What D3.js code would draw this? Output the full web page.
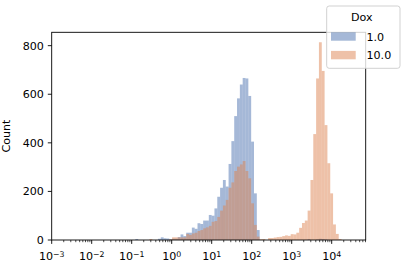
<!DOCTYPE html>
<html>
<head>
<meta charset="utf-8">
<script src="https://cdn.jsdelivr.net/npm/d3@7"></script>
<style>
  body { margin: 0; background: #fff; }
  svg text { font-family: "DejaVu Sans", sans-serif; fill: #000; }
</style>
</head>
<body>
<div id="chart"></div>
<script>
// log10 bin grid shared by both hue levels
const binStart = -0.908;
const binWidth = 0.0706;

const hueLevels = ["1.0", "10.0"];
const hueColors = ["#4c72b0", "#dd8452"];

const dox1Counts = [
  4, 0, 0, 0, 0, 0, 0, 0, 5, 11,
  7, 6, 3, 5, 5, 12, 23, 16, 30, 30,
  51, 46, 69, 66, 80, 80, 103, 100, 130, 178,
  215, 247, 220, 313, 407, 510, 583, 640, 667, 665,
  593, 405, 192, 41, 0, 0, 0, 0, 0, 0,
  0, 0, 0, 0, 0, 0, 0, 0, 0, 0,
  0, 3, 0, 0, 2, 5, 4, 2, 0, 0,
  0, 0, 0
];
const dox10Counts = [
  0, 0, 0, 0, 0, 4, 0, 0, 0, 0,
  0, 0, 3, 11, 11, 11, 11, 11, 25, 21,
  27, 30, 37, 41, 48, 52, 58, 75, 78, 95,
  121, 142, 165, 215, 237, 284, 302, 311, 325, 284,
  254, 151, 62, 14, 3, 4, 0, 8, 8, 10,
  12, 13, 16, 19, 17, 24, 23, 30, 50, 70,
  80, 121, 247, 436, 665, 814, 696, 473, 316, 192,
  64, 25, 4
];

const xTickExps = [-3, -2, -1, 0, 1, 2, 3, 4];
const yTicks = [0, 200, 400, 600, 800];
const xDomain = [1e-3, Math.pow(10, 4.85)];
const yDomain = [0, 855];

const W = 405, H = 270;
const margin = { top: 32.3, right: 39.3, bottom: 30, left: 51.7 };

const svg = d3.select("#chart").append("svg")
  .attr("width", W)
  .attr("height", H);

let x = d3.scaleLog()
  .domain(xDomain)
  .range([margin.left, W - margin.right]);

let y = d3.scaleLinear()
  .domain(yDomain)
  .range([H - margin.bottom, margin.top]);

const series = [dox1Counts, dox10Counts];

series.forEach((counts, s) => {
  svg.append("g")
    .selectAll("rect")
    .data(counts.map((c, i) => ({ i: i, c: c })).filter(d => d.c > 0))
    .enter()
    .append("rect")
    .attr("x", d => x(Math.pow(10, binStart + d.i * binWidth)))
    .attr("width", d => x(Math.pow(10, binStart + (d.i + 1) * binWidth)) - x(Math.pow(10, binStart + d.i * binWidth)))
    .attr("y", d => y(d.c))
    .attr("height", d => y(0) - y(d.c))
    .style("fill", hueColors[s])
    .style("fill-opacity", 0.5);
});

// x axis: log ticks, major decades + minor 2..9
const minorTicks = [];
for (let e = -3; e <= 4; e++) {
  for (let m = 2; m <= 9; m++) {
    let v = m * Math.pow(10, e);
    if (v <= xDomain[1]) minorTicks.push(v);
  }
}

let xAxisG = svg.append("g")
  .attr("transform", `translate(0, ${y(0)})`);

xAxisG.selectAll("line.minor")
  .data(minorTicks)
  .enter()
  .append("line")
  .attr("x1", d => x(d)).attr("x2", d => x(d))
  .attr("y1", 0).attr("y2", 2.2)
  .attr("stroke", "#000").attr("stroke-width", 0.7);

xAxisG.selectAll("line.major")
  .data(xTickExps)
  .enter()
  .append("line")
  .attr("x1", d => x(Math.pow(10, d))).attr("x2", d => x(Math.pow(10, d)))
  .attr("y1", 0).attr("y2", 3.9)
  .attr("stroke", "#000").attr("stroke-width", 0.9);

let xLabels = xAxisG.selectAll("text")
  .data(xTickExps)
  .enter()
  .append("text")
  .attr("x", d => x(Math.pow(10, d)))
  .attr("y", 20)
  .style("font-size", "11.1px")
  .style("text-anchor", "middle");
xLabels.append("tspan").text("10");
xLabels.append("tspan")
  .attr("dy", "-0.42em")
  .style("font-size", "7.8px")
  .text(d => d < 0 ? "\u2212" + (-d) : "" + d);

// y axis
let yAxisG = svg.append("g");
yAxisG.selectAll("line")
  .data(yTicks)
  .enter()
  .append("line")
  .attr("x1", margin.left - 3.9).attr("x2", margin.left)
  .attr("y1", d => y(d)).attr("y2", d => y(d))
  .attr("stroke", "#000").attr("stroke-width", 0.9);
yAxisG.selectAll("text")
  .data(yTicks)
  .enter()
  .append("text")
  .attr("x", margin.left - 7.8)
  .attr("y", d => y(d) + 4)
  .style("font-size", "11.1px")
  .style("text-anchor", "end")
  .text(d => d);

svg.append("text")
  .attr("transform", `translate(10, ${(margin.top + H - margin.bottom) / 2}) rotate(-90)`)
  .style("font-size", "11.1px")
  .style("text-anchor", "middle")
  .text("Count");

// frame
svg.append("rect")
  .attr("x", margin.left)
  .attr("y", margin.top)
  .attr("width", W - margin.right - margin.left)
  .attr("height", H - margin.bottom - margin.top)
  .attr("fill", "none")
  .attr("stroke", "#000")
  .attr("stroke-width", 0.9);

// legend
let legend = svg.append("g");
legend.append("rect")
  .attr("x", 326.7).attr("y", 6)
  .attr("width", 73.3).attr("height", 62.3)
  .attr("rx", 2.5)
  .attr("fill", "#fff").attr("fill-opacity", 0.8)
  .attr("stroke", "#cccccc").attr("stroke-width", 0.9);
legend.append("text")
  .attr("x", 361.7).attr("y", 20.5)
  .style("font-size", "11.1px")
  .style("text-anchor", "middle")
  .text("Dox");
hueLevels.forEach((lvl, i) => {
  legend.append("rect")
    .attr("x", 331).attr("y", 32.3 + i * 18.6)
    .attr("width", 24.7).attr("height", 8.4)
    .style("fill", hueColors[i])
    .style("fill-opacity", 0.5);
  legend.append("text")
    .attr("x", 366.5).attr("y", 40.5 + i * 18.6)
    .style("font-size", "11.1px")
    .text(lvl);
});
</script>
</body>
</html>
